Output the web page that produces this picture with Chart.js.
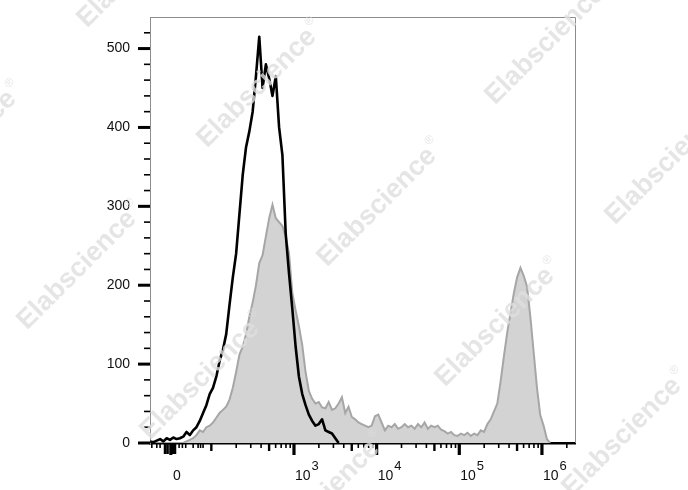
<!DOCTYPE html>
<html>
<head>
<meta charset="utf-8">
<script src="https://cdn.jsdelivr.net/npm/chart.js"></script>
<style>
  body { margin: 0; background: #fff; }
</style>
</head>
<body>
<canvas id="histo" width="688" height="490"></canvas>
<script>
// x is in display decades (10^3 -> 3, 10^4 -> 4 ...), biexponential so 0 sits at 1.51
var binStart = 1.26, binStep = 0.04;

// black outline (control)
var controlCounts = [
  2, 1, 3, 5, 2, 6, 4, 7, 5, 6,
  8, 14, 10, 16, 20, 28, 38, 48, 62, 70,
  84, 104, 118, 138, 175, 210, 240, 290, 340, 375,
  395, 420, 465, 515, 450, 480, 462, 440, 465, 400,
  365, 265, 215, 170, 122, 84, 62, 48, 36, 28,
  22, 24, 30, 16, 14, 12, 6, 0
];

// grey filled (stained)
var stainedCounts = [
  0, 0, 0, 0, 0, 0, 0, 0, 0, 0,
  0, 2, 4, 6, 10, 16, 14, 20, 22, 26,
  32, 38, 42, 46, 55, 70, 90, 112, 122, 138,
  160, 178, 200, 228, 238, 262, 285, 302, 285, 280,
  275, 262, 240, 190, 168, 148, 124, 90, 66, 56,
  50, 52, 45, 44, 52, 42, 44, 50, 58, 38,
  46, 33, 30, 26, 24, 22, 20, 22, 34, 36,
  26, 16, 22, 20, 24, 18, 20, 24, 20, 22,
  18, 24, 20, 26, 18, 22, 20, 22, 17, 15,
  12, 14, 10, 9, 12, 10, 13, 9, 12, 10,
  16, 14, 24, 30, 40, 50, 78, 110, 140, 165,
  190, 210, 222, 212, 198, 160, 115, 70, 35, 22,
  5, 0
];

var xMajor = [1.51, 3, 4, 5, 6];
var xBase = ['0', '10', '10', '10', '10'];
var xExp = ['', '3', '4', '5', '6'];
var xNearZero = [1.28, 1.34, 1.38, 1.44, 1.47, 1.54, 1.56, 1.61, 1.65, 1.69, 1.78, 1.84, 1.87, 1.90];
var yLabels = [0, 100, 200, 300, 400, 500];
var yMinor = [20, 40, 60, 80, 120, 140, 160, 180, 220, 240, 260, 280, 320, 340, 360, 380, 420, 440, 460, 480, 520];

function toPoints(counts) {
  return counts.map(function (c, i) { return { x: binStart + i * binStep, y: c }; });
}

// log minor ticks 2..9 inside each decade
var xMinor = [];
for (var d = 2; d <= 6; d++) {
  for (var k = 2; k <= 9; k++) {
    var t = d + Math.log10(k);
    if (t < 6.4) xMinor.push({ v: t, mid: k === 5 });
  }
}
xMinor.push({ v: 2, mid: true });

var flowAxes = {
  id: 'flowAxes',
  afterDraw: function (chart) {
    var ctx = chart.ctx, xs = chart.scales.x, ys = chart.scales.y, a = chart.chartArea;
    ctx.save();
    ctx.strokeStyle = '#8c8c8c';
    ctx.lineWidth = 1;
    ctx.beginPath();
    ctx.moveTo(a.left, a.top + 0.5);
    ctx.lineTo(a.right + 0.5, a.top + 0.5);
    ctx.lineTo(a.right + 0.5, a.bottom);
    ctx.stroke();

    ctx.strokeStyle = '#000';
    yLabels.forEach(function (v) {
      var y = ys.getPixelForValue(v);
      ctx.lineWidth = 3;
      ctx.beginPath(); ctx.moveTo(a.left - 12, y); ctx.lineTo(a.left, y); ctx.stroke();
    });
    yMinor.forEach(function (v) {
      var y = ys.getPixelForValue(v);
      ctx.lineWidth = 1.6;
      ctx.beginPath(); ctx.moveTo(a.left - 6, y); ctx.lineTo(a.left, y); ctx.stroke();
    });

    var yb = a.bottom;
    xMajor.forEach(function (v) {
      var x = xs.getPixelForValue(v);
      ctx.lineWidth = 3.2;
      ctx.beginPath(); ctx.moveTo(x, yb); ctx.lineTo(x, yb + 12); ctx.stroke();
    });
    xMinor.forEach(function (m) {
      var x = xs.getPixelForValue(m.v);
      ctx.lineWidth = m.mid ? 2.4 : 1.6;
      ctx.beginPath(); ctx.moveTo(x, yb); ctx.lineTo(x, yb + (m.mid ? 8 : 5)); ctx.stroke();
    });
    xNearZero.forEach(function (v) {
      var x = xs.getPixelForValue(v);
      var nearBlock = v > 1.42 && v < 1.58;
      ctx.lineWidth = nearBlock ? 2.6 : 1.6;
      ctx.beginPath(); ctx.moveTo(x, yb); ctx.lineTo(x, yb + (nearBlock ? 11 : 5)); ctx.stroke();
    });

    ctx.fillStyle = '#111';
    ctx.textBaseline = 'alphabetic';
    xMajor.forEach(function (v, i) {
      var x = xs.getPixelForValue(v);
      ctx.font = '14px Arial, "Liberation Sans", sans-serif';
      if (!xExp[i]) {
        ctx.textAlign = 'center';
        ctx.fillText(xBase[i], x + 6, 480);
      } else {
        ctx.textAlign = 'left';
        ctx.fillText(xBase[i], x + 1, 480);
        var w = ctx.measureText(xBase[i]).width;
        ctx.font = '13px Arial, "Liberation Sans", sans-serif';
        ctx.fillText(xExp[i], x + 2 + w, 469.5);
      }
    });
    ctx.restore();

    // watermark
    var spots = [[-43, 150], [77, 270], [200, 380], [320, 500], [137, -32], [257, 88],
                 [377, 207], [495, 327], [622, 437], [545, 45], [665, 165]];
    ctx.save();
    ctx.fillStyle = 'rgba(222,222,222,0.8)';
    spots.forEach(function (p) {
      ctx.save();
      ctx.translate(p[0], p[1]);
      ctx.rotate(-Math.PI / 4);
      ctx.font = 'bold 27px Arial, "Liberation Sans", sans-serif';
      ctx.textAlign = 'center';
      ctx.textBaseline = 'middle';
      ctx.fillText('Elabscience', 0, 0);
      var w = ctx.measureText('Elabscience').width;
      ctx.font = '12px Arial, "Liberation Sans", sans-serif';
      ctx.textAlign = 'left';
      ctx.fillText('\u00AE', w / 2 + 2, -10);
      ctx.restore();
    });
    ctx.restore();
  }
};

new Chart(document.getElementById('histo'), {
  type: 'line',
  data: {
    datasets: [
      {
        label: 'Control',
        data: toPoints(controlCounts),
        borderColor: '#000',
        borderWidth: 2.6,
        borderJoinStyle: 'round',
        pointRadius: 0,
        fill: false,
        tension: 0
      },
      {
        label: 'Stained',
        data: toPoints(stainedCounts),
        borderColor: '#a6a6a6',
        backgroundColor: '#d3d3d3',
        borderWidth: 2,
        pointRadius: 0,
        fill: 'origin',
        tension: 0
      }
    ]
  },
  options: {
    responsive: false,
    animation: false,
    devicePixelRatio: 1,
    layout: { padding: { left: 0, top: 17, right: 113, bottom: 0 } },
    plugins: { legend: { display: false }, tooltip: { enabled: false } },
    scales: {
      x: {
        type: 'linear',
        min: 1.258,
        max: 6.4,
        z: 1,
        grid: { drawOnChartArea: false, drawTicks: false },
        border: { color: '#000', width: 2.5 },
        ticks: { display: false },
        afterFit: function (s) { s.height = 47; }
      },
      y: {
        min: 0,
        max: 540,
        grid: { drawOnChartArea: false, tickLength: 12, tickColor: 'rgba(0,0,0,0)' },
        border: { color: '#8c8c8c', width: 1 },
        afterBuildTicks: function (s) { s.ticks = yLabels.map(function (v) { return { value: v }; }); },
        ticks: {
          padding: 8,
          color: '#111',
          font: { family: 'Arial, "Liberation Sans", sans-serif', size: 14 }
        },
        afterFit: function (s) { s.width = 150; }
      }
    }
  },
  plugins: [flowAxes]
});
</script>
</body>
</html>
